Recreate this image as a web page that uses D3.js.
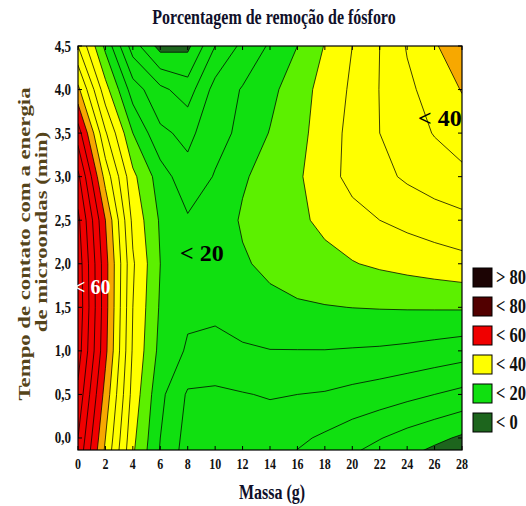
<!DOCTYPE html>
<html>
<head>
<meta charset="utf-8">
<script src="https://cdn.jsdelivr.net/npm/d3@7"></script>
<style>
  body { margin: 0; background: #fff; }
  text { font-family: "Liberation Serif", "DejaVu Serif", serif; font-weight: bold; }
</style>
</head>
<body>
<svg id="chart" width="526" height="506"></svg>
<script>
// grid: columns = massa (g), rows = tempo (min), top row first
var massa = [0, 2, 4, 6, 8, 10, 12, 14, 16, 18, 20, 22, 24, 26, 28];
var tempo = [4.5, 4.0, 3.5, 3.0, 2.5, 2.0, 1.5, 1.0, 0.5, 0.0, -0.5];

var rem4_5 = [28, 15, 2, -5.5, -5, 4, 9, 12.5, 16, 20.2, 24, 28, 32.3, 35.6, 38.5];
var rem4_0 = [37, 21.5, 10, 5, 2, 9.5, 12.3, 14.8, 18.5, 21.2, 24.7, 28.1, 31.2, 33.6, 36.2];
var rem3_5 = [46, 28.5, 16, 8.8, 7, 10.5, 13, 16.2, 18.8, 21.8, 25.3, 28, 30.3, 32.2, 34];
var rem3_0 = [53, 34.5, 21, 14, 9.3, 12.3, 15.5, 17.6, 19.5, 22, 25.5, 26.9, 28.6, 30, 31];
var rem2_5 = [57, 40, 23, 15.5, 12.5, 13.5, 16.5, 18, 19.3, 20.8, 22.3, 24, 25.1, 26.1, 27];
var rem2_0 = [58.5, 41.5, 24.5, 16, 13.6, 14, 15.5, 17, 18, 19, 19.8, 20.6, 21.3, 22, 22.7];
var rem1_5 = [59, 41.5, 24, 15.5, 12.8, 12.9, 14, 14.8, 15.5, 15.8, 16.05, 16.2, 16.3, 16.35, 16.4];
var rem1_0 = [58, 41, 23.5, 14.8, 11.5, 10.8, 11.5, 11.9, 11.9, 11.9, 11.7, 11.5, 11.1, 10.5, 9.8];
var rem0_5 = [55, 38.5, 22.5, 13, 7.5, 7.3, 7.8, 8.3, 8.0, 7.7, 6.9, 6.1, 5.1, 4.0, 2.9];
var rem0_0 = [52, 36, 21, 12, 6.5, 6.2, 6.2, 5.8, 4.7, 3.4, 1.8, 0.2, -1.5, -3.0, -4.6];
var remN0_5 = [49, 33.5, 19.5, 11, 5.5, 5, 4.8, 3.8, 2, -0.3, -2.8, -5, -7, -9, -11];

var remocao = [rem4_5, rem4_0, rem3_5, rem3_0, rem2_5, rem2_0, rem1_5, rem1_0, rem0_5, rem0_0, remN0_5];

var xTicks = [0, 2, 4, 6, 8, 10, 12, 14, 16, 18, 20, 22, 24, 26, 28];
var yTicks = [0, 0.5, 1, 1.5, 2, 2.5, 3, 3.5, 4, 4.5];
var legendLabels = ["> 80", "< 80", "< 60", "< 40", "< 20", "< 0"];
var levels = d3.range(-12, 84, 4);

// styles
var legendColors = ["#1c0404", "#520000", "#f00000", "#ffff00", "#10e010", "#1d651d"];

function bandColor(t) {
    if (t < -4) return "#1d651d";
    if (t < 16) return "#10e010";
    if (t < 20) return "#5cf000";
    if (t < 36) return "#ffff00";
    if (t < 40) return "#f7a800";
    if (t < 60) return "#f00000";
    if (t < 80) return "#520000";
    return "#1c0404";
}

var svg = d3.select("#chart");
var pLeft = 78, pRight = 462, pTop = 46, pBottom = 450;

var x = d3.scaleLinear().domain([0, 28]).range([pLeft, pRight]);
var y = d3.scaleLinear().domain([-0.138, 4.5]).range([pBottom, pTop]);

var xStep = massa[1] - massa[0], yStep = tempo[0] - tempo[1];

// contour grid coords -> data -> pixels (sample i sits at i + 0.5)
var gridToPx = d3.geoTransform({
    point: function(gx, gy) {
        this.stream.point(x(massa[0] + (gx - 0.5) * xStep), y(tempo[0] - (gy - 0.5) * yStep));
    }
});
var path = d3.geoPath(gridToPx);

var values = [].concat.apply([], remocao);
var contours = d3.contours()
    .size([massa.length, tempo.length])
    .thresholds(levels)(values);

svg.append("clipPath").attr("id", "plotclip")
  .append("rect")
    .attr("x", pLeft).attr("y", pTop)
    .attr("width", pRight - pLeft).attr("height", pBottom - pTop);

var plot = svg.append("g").attr("clip-path", "url(#plotclip)");

plot.selectAll("path.band")
    .data(contours)
    .join("path")
    .attr("class", "band")
    .attr("d", path)
    .attr("fill", function(d) { return bandColor(d.value); });

plot.selectAll("path.iso")
    .data(contours.filter(function(d) { return d.value > levels[0]; }))
    .join("path")
    .attr("class", "iso")
    .attr("d", path)
    .attr("fill", "none")
    .attr("stroke", "#000")
    .attr("stroke-width", 0.75);

// frame
svg.append("rect")
    .attr("x", pLeft).attr("y", pTop)
    .attr("width", pRight - pLeft).attr("height", pBottom - pTop)
    .attr("fill", "none").attr("stroke", "#000").attr("stroke-width", 1.2);

// inward ticks on all four sides
var ticks = svg.append("g").attr("stroke", "#000").attr("stroke-width", 1);
xTicks.forEach(function(t) {
    ticks.append("line").attr("x1", x(t)).attr("x2", x(t)).attr("y1", pBottom).attr("y2", pBottom - 4);
    ticks.append("line").attr("x1", x(t)).attr("x2", x(t)).attr("y1", pTop).attr("y2", pTop + 4);
});
yTicks.forEach(function(t) {
    ticks.append("line").attr("x1", pLeft).attr("x2", pLeft + 4).attr("y1", y(t)).attr("y2", y(t));
    ticks.append("line").attr("x1", pRight).attr("x2", pRight - 4).attr("y1", y(t)).attr("y2", y(t));
});

var fmtY = function(v) { return d3.format(".1f")(v).replace(".", ","); };

svg.append("g").selectAll("text")
    .data(yTicks)
    .join("text")
    .attr("transform", function(d) { return "translate(71," + (y(d) + 5.5) + ") scale(1,1.3)"; })
    .attr("text-anchor", "end")
    .attr("font-size", 13)
    .attr("fill", "#111")
    .text(fmtY);

svg.append("g").selectAll("text")
    .data(xTicks)
    .join("text")
    .attr("transform", function(d) { return "translate(" + x(d) + ",469) scale(1,1.2)"; })
    .attr("text-anchor", "middle")
    .attr("font-size", 12)
    .attr("fill", "#111")
    .text(function(d) { return d; });

// titles
svg.append("text")
    .attr("transform", "translate(274,24) scale(1,1.3)")
    .attr("text-anchor", "middle")
    .attr("font-size", 16)
    .attr("fill", "#10102a")
    .text("Porcentagem de remoção de fósforo");

svg.append("text")
    .attr("transform", "translate(272,499) scale(1,1.3)")
    .attr("text-anchor", "middle")
    .attr("font-size", 16)
    .attr("fill", "#10102a")
    .text("Massa (g)");

svg.append("text")
    .attr("transform", "translate(30,244) scale(1,1.3) rotate(-90)")
    .attr("text-anchor", "middle")
    .attr("font-size", 17.5)
    .attr("fill", "#55441a")
    .text("Tempo de contato com a energia");

svg.append("text")
    .attr("transform", "translate(47,232) scale(1,1.3) rotate(-90)")
    .attr("text-anchor", "middle")
    .attr("font-size", 17.5)
    .attr("fill", "#55441a")
    .text("de microondas (min)");

// legend
var legend = svg.append("g");
legendLabels.forEach(function(lab, i) {
    var ty = 268 + i * 29;
    legend.append("rect")
        .attr("x", 473).attr("y", ty)
        .attr("width", 19).attr("height", 19)
        .attr("fill", legendColors[i])
        .attr("stroke", "#000").attr("stroke-width", 1);
    legend.append("text")
        .attr("transform", "translate(496," + (ty + 16) + ") scale(1,1.3)")
        .attr("font-size", 16.5)
        .attr("fill", "#111")
        .text(lab);
});

// labels pasted on the map
svg.append("text").attr("x", 180).attr("y", 261).attr("font-size", 24).attr("fill", "#000").text("< 20");
svg.append("text").attr("x", 418).attr("y", 126).attr("font-size", 24).attr("fill", "#000").text("< 40");
svg.append("text").attr("x", 74).attr("y", 294).attr("font-size", 20).attr("fill", "#fff").text("< 60");
</script>
</body>
</html>
